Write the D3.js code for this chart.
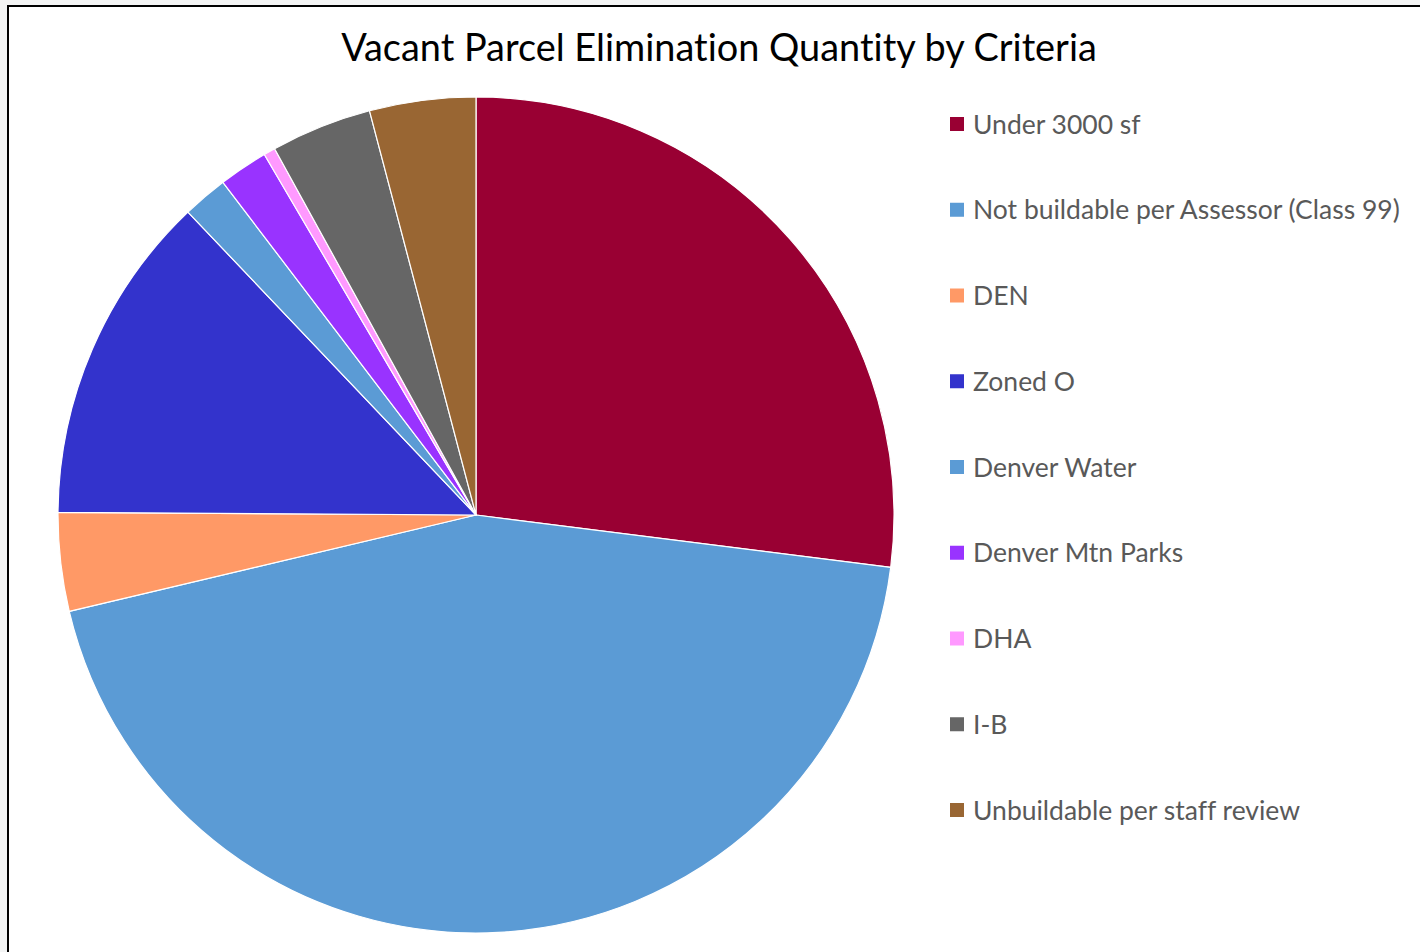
<!DOCTYPE html>
<html>
<head>
<meta charset="utf-8">
<script src="https://cdn.jsdelivr.net/npm/d3@7"></script>
<style>
  html, body { margin: 0; padding: 0; background: #f3f4f4; }
  svg { display: block; }
  text { font-variant-ligatures: none; font-feature-settings: "liga" 0, "clig" 0; }
</style>
</head>
<body>
<svg id="chart"></svg>
<script>
const width = 1420;
const height = 952;

// data (share of eliminated parcels, %)
const categories = [
  "Under 3000 sf",
  "Not buildable per Assessor (Class 99)",
  "DEN",
  "Zoned O",
  "Denver Water",
  "Denver Mtn Parks",
  "DHA",
  "I-B",
  "Unbuildable per staff review"
];
const values = [27.0, 44.3, 3.8, 12.8, 1.75, 1.9, 0.45, 3.9, 4.1];
const colors = ["#990033", "#5B9BD5", "#FF9966", "#3333CC", "#5B9BD5",
                "#9933FF", "#FF99FF", "#666666", "#996633"];
const title = "Vacant Parcel Elimination Quantity by Criteria";

const svg = d3.select("#chart").attr("width", width).attr("height", height);

// chart area with black frame on top / left
svg.append("rect")
  .attr("x", 8).attr("y", 6)
  .attr("width", width).attr("height", height)
  .attr("fill", "#fff")
  .attr("stroke", "#000")
  .attr("stroke-width", 2);

const data = categories.map((c, i) => ({ name: c, value: values[i], color: colors[i] }));

const pie = d3.pie().sort(null).value((d) => d.value);
const arc = d3.arc().innerRadius(0).outerRadius(418);

const g = svg.append("g").attr("transform", "translate(476, 515)");

g.selectAll("path")
  .data(pie(data))
  .enter()
  .append("path")
  .attr("d", arc)
  .attr("fill", (d) => d.data.color)
  .attr("stroke", "#fff")
  .attr("stroke-width", 1.2)
  .attr("stroke-linejoin", "round");

// title
const titleText = svg.append("text")
  .attr("x", 719)
  .attr("y", 61)
  .attr("text-anchor", "middle")
  .style("font-family", "Lato, 'Open Sans', sans-serif")
  .style("font-size", "36px")
  .style("fill", "#000")
  .text(title);
fitWidth(titleText, 756, 36);

// legend
const rowY = d3.scaleLinear().domain([0, categories.length - 1]).range([124, 810]);

const legend = svg.append("g")
  .selectAll("g")
  .data(data)
  .enter()
  .append("g")
  .attr("transform", (d, i) => "translate(950," + rowY(i) + ")");

legend.append("rect")
  .attr("x", 0).attr("y", -7)
  .attr("width", 14).attr("height", 14)
  .attr("fill", (d) => d.color);

const legendText = legend.append("text")
  .attr("x", 23)
  .attr("y", 0)
  .attr("dy", "0.36em")
  .style("font-family", "Lato, 'Open Sans', sans-serif")
  .style("font-size", "24px")
  .style("fill", "#595959")
  .text((d) => d.name);

// scale legend font so the longest label matches the reference width
const longest = legendText.filter((d, i) => i === 1);
const fs = fitWidth(longest, 427, 24);
legendText.style("font-size", fs + "px");

function fitWidth(sel, target, size) {
  const w = sel.node().getComputedTextLength();
  const s = size * target / w;
  sel.style("font-size", s + "px");
  return s;
}
</script>
</body>
</html>
